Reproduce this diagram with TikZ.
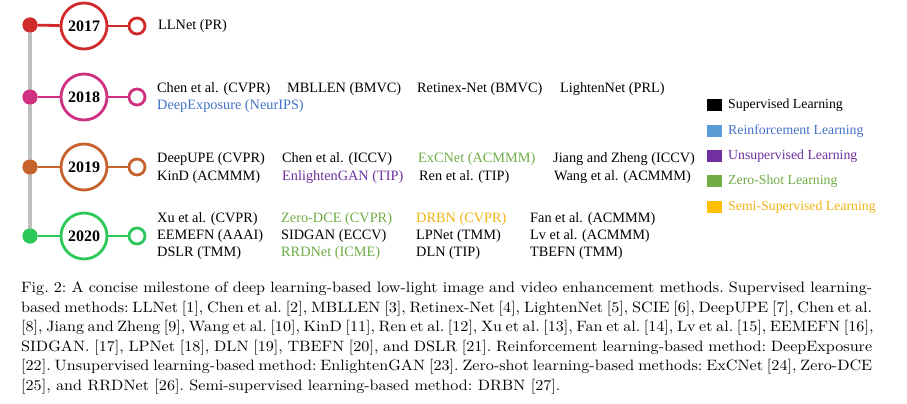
\documentclass[tikz,border=0pt]{standalone}
\usepackage{fontspec}
\newfontfamily\tnr{Liberation Serif}
\newfontfamily\capfont[FakeStretch=1.075]{lmroman10-regular.otf}
\definecolor{cA}{RGB}{208,42,42}
\definecolor{cB}{RGB}{208,48,128}
\definecolor{cC}{RGB}{200,98,44}
\definecolor{cD}{RGB}{44,200,90}
\definecolor{lblue}{RGB}{91,155,213}
\definecolor{tblue}{RGB}{68,114,196}
\definecolor{lpurple}{RGB}{112,48,160}
\definecolor{lgreen}{RGB}{112,173,71}
\definecolor{lgold}{RGB}{255,192,0}
\definecolor{tgold}{RGB}{240,180,20}
\tikzset{
  dotnode/.style={circle, fill, minimum size=15pt, inner sep=0pt},
  yearnode/.style={circle, draw, line width=2.8pt, fill=white, minimum size=46pt, inner sep=0pt, text=black, font=\tnr\bfseries\fontsize{16}{16}\selectfont},
  ringnode/.style={circle, draw, line width=2.8pt, fill=white, minimum size=16pt, inner sep=0pt},
  conn/.style={line width=2.8pt},
  lbl/.style={anchor=west, inner sep=0pt, font=\tnr\fontsize{14.3}{16}\selectfont},
  leg/.style={anchor=west, inner sep=0pt, font=\tnr\fontsize{13.8}{16}\selectfont},
  sq/.style={minimum width=15pt, minimum height=12pt, inner sep=0pt, draw=none},
  capline/.style={anchor=base west, inner sep=0pt, font=\capfont\fontsize{15}{19}\selectfont},
}
\begin{document}
\begin{tikzpicture}[x=1pt, y=-1pt]
\useasboundingbox (0,0) rectangle (907,404);
\fill[white] (0,0) rectangle (907,404);
% timeline
\node[dotnode, cA] (d1) at (30,25) {};
\node[dotnode, cB] (d2) at (30,97) {};
\node[dotnode, cC] (d3) at (30,167) {};
\node[dotnode, cD] (d4) at (30,236) {};
\draw[line width=4pt, black!25] (d1.center) -- (d4.center);
\node[dotnode, cA] at (d1) {};
\node[dotnode, cB] at (d2) {};
\node[dotnode, cC] at (d3) {};
\node[dotnode, cD] at (d4) {};
\node[yearnode, draw=cA] (y1) at (84,26) {2017};
\node[yearnode, draw=cB] (y2) at (84,97) {2018};
\node[yearnode, draw=cC] (y3) at (84,167) {2019};
\node[yearnode, draw=cD] (y4) at (84,236) {2020};
\node[ringnode, draw=cA] (r1) at (137,26) {};
\node[ringnode, draw=cB] (r2) at (137,97) {};
\node[ringnode, draw=cC] (r3) at (137,167) {};
\node[ringnode, draw=cD] (r4) at (137,236) {};
\draw[conn, cA] (d1) -- (y1); \draw[conn, cA] (y1) -- (r1);
\draw[conn, cB] (d2) -- (y2); \draw[conn, cB] (y2) -- (r2);
\draw[conn, cC] (d3) -- (y3); \draw[conn, cC] (y3) -- (r3);
\draw[conn, cD] (d4) -- (y4); \draw[conn, cD] (y4) -- (r4);
% 2017
\node[lbl] (t1) at (158,26) {LLNet (PR)};
% 2018
\node[lbl] (t2a) at (157,89) {Chen et al. (CVPR)};
\node[lbl] (t2b) at (287,89) {MBLLEN (BMVC)};
\node[lbl] (t2c) at (417,89) {Retinex-Net (BMVC)};
\node[lbl] (t2d) at (560,89) {LightenNet (PRL)};
\node[lbl, text=tblue] (t2e) at (157,106) {DeepExposure (NeurIPS)};
% 2019
\node[lbl] (t3a) at (157,159) {DeepUPE (CVPR)};
\node[lbl] (t3b) at (282,159) {Chen et al. (ICCV)};
\node[lbl, text=lgreen] (t3c) at (418,159) {ExCNet (ACMMM)};
\node[lbl] (t3d) at (553,159) {Jiang and Zheng (ICCV)};
\node[lbl] (t3e) at (157,177) {KinD (ACMMM)};
\node[lbl, text=lpurple] (t3f) at (282,177) {EnlightenGAN (TIP)};
\node[lbl] (t3g) at (419,177) {Ren et al. (TIP)};
\node[lbl] (t3h) at (554,177) {Wang et al. (ACMMM)};
% 2020
\node[lbl] (t4a) at (157,219) {Xu et al. (CVPR)};
\node[lbl, text=lgreen] (t4b) at (281,219) {Zero-DCE (CVPR)};
\node[lbl, text=tgold] (t4c) at (416,219) {DRBN (CVPR)};
\node[lbl] (t4d) at (530,219) {Fan et al. (ACMMM)};
\node[lbl] (t4e) at (157,236) {EEMEFN (AAAI)};
\node[lbl] (t4f) at (281,236) {SIDGAN (ECCV)};
\node[lbl] (t4g) at (416,236) {LPNet (TMM)};
\node[lbl] (t4h) at (530,236) {Lv et al. (ACMMM)};
\node[lbl] (t4i) at (157,253) {DSLR (TMM)};
\node[lbl, text=lgreen] (t4j) at (281,253) {RRDNet (ICME)};
\node[lbl] (t4k) at (416,253) {DLN (TIP)};
\node[lbl] (t4l) at (530,253) {TBEFN (TMM)};
% legend
\node[sq, fill=black] (s1) at (714.5,105) {};
\node[sq, fill=lblue] (s2) at (714.5,131) {};
\node[sq, fill=lpurple] (s3) at (714.5,156) {};
\node[sq, fill=lgreen] (s4) at (714.5,181) {};
\node[sq, fill=lgold] (s5) at (714.5,207) {};
\node[leg] (l1) at (728,105) {Supervised Learning};
\node[leg, text=tblue] (l2) at (728,131) {Reinforcement Learning};
\node[leg, text=lpurple] (l3) at (728,156) {Unsupervised Learning};
\node[leg, text=lgreen] (l4) at (728,181) {Zero-Shot Learning};
\node[leg, text=tgold] (l5) at (728,207) {Semi-Supervised Learning};
% caption
\frenchspacing
\node[capline] (c1) at (21,292.5) {\makebox[851pt][s]{Fig. 2: A concise milestone of deep learning-based low-light image and video enhancement methods. Supervised learning-}};
\node[capline] (c2) at (21,312) {\makebox[851pt][s]{based methods: LLNet [1], Chen et al. [2], MBLLEN [3], Retinex-Net [4], LightenNet [5], SCIE [6], DeepUPE [7], Chen et al.}};
\node[capline] (c3) at (21,331.5) {\makebox[851pt][s]{[8], Jiang and Zheng [9], Wang et al. [10], KinD [11], Ren et al. [12], Xu et al. [13], Fan et al. [14], Lv et al. [15], EEMEFN [16],}};
\node[capline] (c4) at (21,351) {\makebox[851pt][s]{SIDGAN. [17], LPNet [18], DLN [19], TBEFN [20], and DSLR [21]. Reinforcement learning-based method: DeepExposure}};
\node[capline] (c5) at (21,370.5) {\makebox[851pt][s]{[22]. Unsupervised learning-based method: EnlightenGAN [23]. Zero-shot learning-based methods: ExCNet [24], Zero-DCE}};
\node[capline] (c6) at (21,390) {[25], and RRDNet [26]. Semi-supervised learning-based method: DRBN [27].};
\end{tikzpicture}
\end{document}
